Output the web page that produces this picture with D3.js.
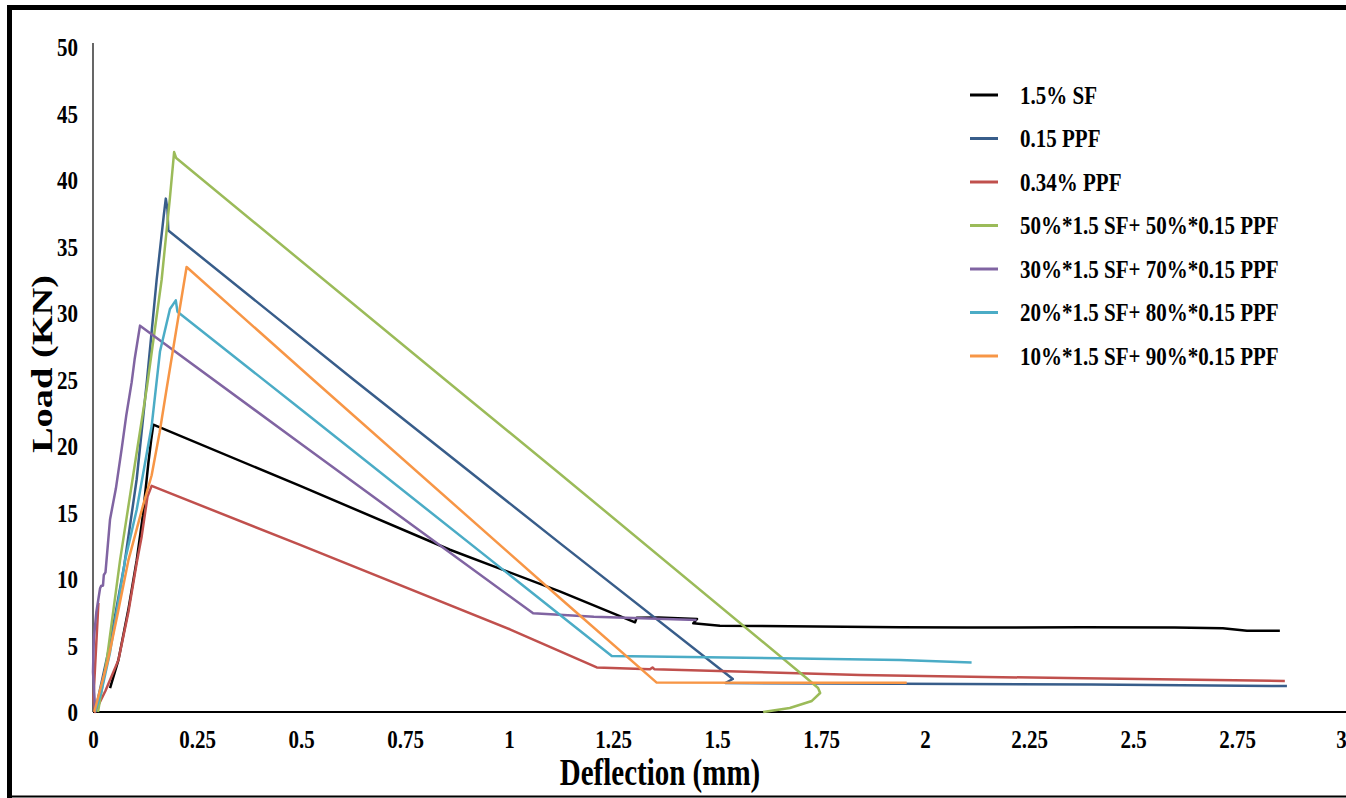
<!DOCTYPE html>
<html>
<head>
<meta charset="utf-8">
<script src="https://cdn.jsdelivr.net/npm/d3@7"></script>
<style>
  body { margin: 0; background: #fff; }
  svg text { font-family: "Liberation Serif", "Times New Roman", serif; font-weight: bold; fill: #000; }
</style>
</head>
<body>
<script>
// load-deflection curves, [deflection (mm), load (KN)]
const sf15 = [[0.041,1.8],[0.061,3.9],[0.085,7.7],[0.105,11.4],[0.12,14.8],[0.133,18.7],[0.14,20.5],[0.145,21.6],
  [0.498,17.0],[0.858,12.2],[1.122,9.07],[1.303,6.74],[1.307,7.09],[1.36,7.1],[1.452,6.99],[1.443,6.67],[1.507,6.49],
  [1.94,6.37],[2.1,6.35],[2.38,6.37],[2.6,6.35],[2.716,6.29],[2.774,6.11],[2.853,6.11]];
const ppf015 = [[0.005,0],[0.04,5],[0.075,11],[0.105,17.5],[0.13,25],[0.153,32.5],[0.17,37.3],[0.175,38.6],[0.179,37.8],
  [0.181,36.2],[0.626,25.0],[1.123,12.68],[1.538,2.48],[1.52,2.18],[1.94,2.12],[2.4,2.06],[2.87,1.95]];
const ppf034 = [[0.013,8.2],[0.001,1],[0.005,0],[0.03,1.6],[0.061,3.9],[0.085,7.5],[0.105,11.2],[0.117,13.2],[0.131,16.2],
  [0.141,17.0],[0.498,12.56],[1.002,6.22],[1.211,3.35],[1.339,3.21],[1.345,3.35],[1.35,3.21],[1.844,2.78],[2.38,2.53],[2.865,2.33]];
const hyb50 = [[0.012,0],[0.033,3.9],[0.065,11.4],[0.1,18.5],[0.13,24.5],[0.165,32.5],[0.185,38.7],[0.195,42.1],[0.2,41.65],
  [0.846,25.0],[1.123,17.9],[1.712,2.63],[1.743,1.8],[1.748,1.43],[1.728,0.83],[1.675,0.3],[1.611,0]];
const hyb30 = [[0.005,0.3],[0.0,3],[0.002,5.5],[0.008,7.5],[0.017,9.3],[0.02,9.5],[0.024,9.5],[0.026,10.3],[0.03,10.5],
  [0.041,14.5],[0.055,16.8],[0.069,19.8],[0.08,22.3],[0.093,24.8],[0.1,26.5],[0.113,29.05],[0.498,20.2],[1.058,7.42],
  [1.204,7.16],[1.451,6.92]];
const hyb20 = [[0.005,0],[0.02,1.5],[0.041,4.5],[0.077,11.4],[0.105,15.2],[0.141,21.5],[0.161,27.1],[0.185,30.3],[0.199,30.95],
  [0.203,30.1],[0.498,22.8],[1.247,4.21],[1.94,3.91],[2.112,3.73]];
const hyb10 = [[0.003,0],[0.036,3.9],[0.06,7.5],[0.085,11.4],[0.12,15.5],[0.141,17.8],[0.16,21],[0.177,24.3],[0.2,28.7],
  [0.225,33.46],[0.53,24.96],[1.123,8.55],[1.355,2.21],[1.956,2.2]];

const seriesNames = ["1.5% SF", "0.15 PPF", "0.34% PPF", "50%*1.5 SF+ 50%*0.15 PPF",
  "30%*1.5 SF+ 70%*0.15 PPF", "20%*1.5 SF+ 80%*0.15 PPF", "10%*1.5 SF+ 90%*0.15 PPF"];
const seriesData = [sf15, ppf015, ppf034, hyb50, hyb30, hyb20, hyb10];
const seriesColors = ["#000000", "#385d8a", "#c0504d", "#9bbb59", "#8064a2", "#4bacc6", "#f79646"];

const xTicks = [0, 0.25, 0.5, 0.75, 1, 1.25, 1.5, 1.75, 2, 2.25, 2.5, 2.75, 3];
const yTicks = [0, 5, 10, 15, 20, 25, 30, 35, 40, 45, 50];

const width = 1346, height = 798;
const stretch = 1.2;

const svg = d3.select("body").append("svg")
  .attr("width", width)
  .attr("height", height);

// frame
svg.append("path")
  .attr("d", `M9.5,${height}V7.5H${width}`)
  .attr("fill", "none").attr("stroke", "#000").attr("stroke-width", 5);
svg.append("line")
  .attr("x1", 7).attr("x2", width).attr("y1", 796.5).attr("y2", 796.5)
  .attr("stroke", "#000").attr("stroke-width", 2);

const x = d3.scaleLinear().domain([0, 3]).range([93, 1341]);
const y = d3.scaleLinear().domain([0, 50]).range([712, 47]);

// x axis
const xAxis = svg.append("g")
  .attr("transform", `translate(0,${y(0)})`)
  .call(d3.axisBottom(x).tickValues(xTicks).tickSize(0).tickSizeOuter(0).tickFormat(d => String(d)));
xAxis.select(".domain").attr("d", `M${x(0)},0H${width}`).attr("stroke-width", 2);
xAxis.selectAll("text")
  .attr("y", null).attr("dy", null)
  .attr("dominant-baseline", "central")
  .attr("font-size", 21)
  .attr("transform", `translate(0,27) scale(1,${stretch})`);

// y axis
const yAxis = svg.append("g")
  .attr("transform", `translate(${x(0)},0)`)
  .call(d3.axisLeft(y).tickValues(yTicks).tickSize(0).tickSizeOuter(0).tickFormat(d => String(d)));
yAxis.select(".domain").attr("d", `M0,${y(0)}V43`).attr("stroke-width", 1.2);
yAxis.selectAll("text")
  .attr("x", null).attr("dy", null)
  .attr("dominant-baseline", "central")
  .attr("text-anchor", "end")
  .attr("font-size", 21)
  .attr("transform", `translate(-15,0) scale(1,${stretch})`);

// axis titles
svg.append("text")
  .attr("transform", `translate(660,785) scale(1,1.3)`)
  .attr("text-anchor", "middle")
  .attr("font-size", 29)
  .text("Deflection (mm)");

svg.append("text")
  .attr("transform", `translate(52,364) scale(1,1.28) rotate(-90)`)
  .attr("text-anchor", "middle")
  .attr("font-size", 30)
  .text("Load (KN)");

// curves
const line = d3.line()
  .x(d => x(d[0]))
  .y(d => y(d[1]));

svg.append("g")
  .selectAll("path")
  .data(seriesData)
  .join("path")
  .attr("d", line)
  .attr("fill", "none")
  .attr("stroke", (d, i) => seriesColors[i])
  .attr("stroke-width", 2.5)
  .attr("stroke-linejoin", "round");

// legend
const legend = svg.append("g")
  .selectAll("g")
  .data(seriesNames)
  .join("g")
  .attr("transform", (d, i) => `translate(970,${95 + i * 43.5})`);

legend.append("line")
  .attr("x1", 0).attr("x2", 28)
  .attr("stroke", (d, i) => seriesColors[i])
  .attr("stroke-width", 3);

legend.append("text")
  .attr("transform", `translate(50,0) scale(1,${stretch})`)
  .attr("dominant-baseline", "central")
  .attr("font-size", 21)
  .text(d => d);
</script>
</body>
</html>
